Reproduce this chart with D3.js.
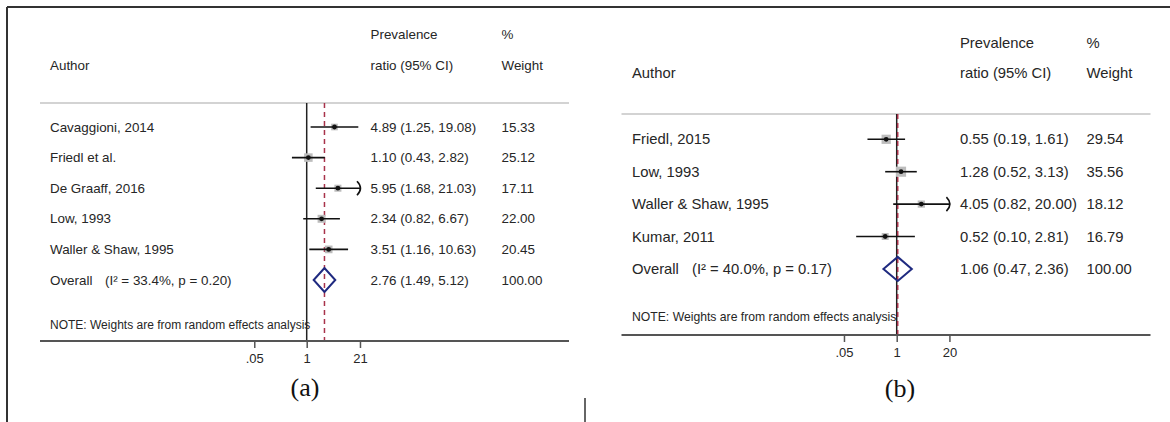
<!DOCTYPE html>
<html>
<head>
<meta charset="utf-8">
<script src="https://cdn.jsdelivr.net/npm/d3@7"></script>
<style>
  body { margin: 0; background: #fff; }
  svg { display: block; }
  text { font-family: "Liberation Sans", Arial, sans-serif; fill: #262626; }
</style>
</head>
<body>
<svg id="chart" width="1170" height="422"></svg>
<script>
// ---- Panel (a): prevalence ratios by study ----
const studiesA = ["Cavaggioni, 2014", "Friedl et al.", "De Graaff, 2016", "Low, 1993", "Waller & Shaw, 1995"];
const ratioA   = [4.89, 1.10, 5.95, 2.34, 3.51];
const lowerA   = [1.25, 0.43, 1.68, 0.82, 1.16];
const upperA   = [19.08, 2.82, 21.03, 6.67, 10.63];
const weightA  = [15.33, 25.12, 17.11, 22.00, 20.45];
const overallA = [2.76, 1.49, 5.12, 100.00];     // estimate, lower, upper, weight
const overallStatsA = "(I² = 33.4%, p = 0.20)";
const ticksA      = [0.05, 1, 21];
const tickLabelsA = [".05", "1", "21"];

// ---- Panel (b) ----
const studiesB = ["Friedl, 2015", "Low, 1993", "Waller & Shaw, 1995", "Kumar, 2011"];
const ratioB   = [0.55, 1.28, 4.05, 0.52];
const lowerB   = [0.19, 0.52, 0.82, 0.10];
const upperB   = [1.61, 3.13, 20.00, 2.81];
const weightB  = [29.54, 35.56, 18.12, 16.79];
const overallB = [1.06, 0.47, 2.36, 100.00];
const overallStatsB = "(I² = 40.0%, p = 0.17)";
const ticksB      = [0.05, 1, 20];
const tickLabelsB = [".05", "1", "20"];

const noteText = "NOTE: Weights are from random effects analysis";
const f2 = d3.format(".2f");

const svg = d3.select("#chart");

// outer frame
svg.append("line").attr("x1", 7).attr("x2", 1170).attr("y1", 7).attr("y2", 7)
  .attr("stroke", "#333").attr("stroke-width", 2);
svg.append("line").attr("x1", 7).attr("x2", 7).attr("y1", 7).attr("y2", 422)
  .attr("stroke", "#333").attr("stroke-width", 2);

function drawPanel(data, L) {
  const g = svg.append("g");
  const n = data.studies.length;

  // log scale anchored so that 1 sits on the null line
  const x = d3.scaleLog()
    .domain([data.ticks[0], data.ticks[data.ticks.length - 1]])
    .range([L.nullX - L.k * Math.log(1 / data.ticks[0]),
            L.nullX + L.k * Math.log(data.ticks[data.ticks.length - 1])]);
  const xMin = x.domain()[0], xMax = x.domain()[1];

  const rowY = i => L.rowY0 + i * L.rowStep;
  const fs = L.fs;

  // headers
  const head = [
    [L.authorX, L.headY2, "Author"],
    [L.estX, L.headY1, "Prevalence"],
    [L.estX, L.headY2, "ratio (95% CI)"],
    [L.wX, L.headY1, "%"],
    [L.wX, L.headY2, "Weight"]
  ];
  g.selectAll("text.head").data(head).join("text")
    .attr("x", d => d[0]).attr("y", d => d[1])
    .attr("dominant-baseline", "central")
    .style("font-size", fs + "px").text(d => d[2]);

  // header separator
  g.append("line").attr("x1", L.lineX0).attr("x2", L.lineX1)
    .attr("y1", L.sepY).attr("y2", L.sepY)
    .attr("stroke", "#c4c4c4").attr("stroke-width", 1.5);

  // null line at 1
  g.append("line").attr("x1", x(1)).attr("x2", x(1))
    .attr("y1", L.sepY).attr("y2", L.axisY)
    .attr("stroke", "#222").attr("stroke-width", 1.5);

  // dashed line at overall estimate
  g.append("line").attr("x1", x(data.overall[0])).attr("x2", x(data.overall[0]))
    .attr("y1", L.sepY).attr("y2", L.axisY)
    .attr("stroke", "#a8324a").attr("stroke-width", 1.5)
    .attr("stroke-dasharray", "5,4");

  const rows = d3.range(n).map(i => ({
    name: data.studies[i], est: data.ratio[i], lo: data.lower[i],
    hi: data.upper[i], w: data.weight[i], y: rowY(i)
  }));

  // weight boxes
  g.selectAll("rect.box").data(rows).join("rect")
    .attr("x", d => x(d.est) - 0.85 * Math.sqrt(d.w))
    .attr("y", d => d.y - 0.85 * Math.sqrt(d.w))
    .attr("width", d => 1.7 * Math.sqrt(d.w))
    .attr("height", d => 1.7 * Math.sqrt(d.w))
    .attr("fill", "#bdbdbd");

  // confidence intervals (clipped at the axis limits)
  g.selectAll("line.ci").data(rows).join("line")
    .attr("x1", d => x(Math.max(d.lo, xMin)))
    .attr("x2", d => x(Math.min(d.hi, xMax)))
    .attr("y1", d => d.y).attr("y2", d => d.y)
    .attr("stroke", "#111").attr("stroke-width", 1.6);

  // arrowheads where an interval reaches the axis limit
  g.selectAll("path.arrow").data(rows.filter(d => d.hi >= xMax)).join("path")
    .attr("d", d => {
      const xe = x(xMax);
      return `M${xe - 3},${d.y - 7} Q${xe + 4},${d.y} ${xe - 3},${d.y + 7}`;
    })
    .attr("fill", "none").attr("stroke", "#111").attr("stroke-width", 1.6);

  // point estimates
  g.selectAll("circle.pt").data(rows).join("circle")
    .attr("cx", d => x(d.est)).attr("cy", d => d.y).attr("r", 2.4)
    .attr("fill", "#111");

  // study labels, estimates and weights
  g.selectAll("text.name").data(rows).join("text")
    .attr("x", L.authorX).attr("y", d => d.y).attr("dominant-baseline", "central")
    .style("font-size", fs + "px").text(d => d.name);
  g.selectAll("text.est").data(rows).join("text")
    .attr("x", L.estX).attr("y", d => d.y).attr("dominant-baseline", "central")
    .style("font-size", fs + "px")
    .text(d => `${f2(d.est)} (${f2(d.lo)}, ${f2(d.hi)})`);
  g.selectAll("text.wt").data(rows).join("text")
    .attr("x", L.wX).attr("y", d => d.y).attr("dominant-baseline", "central")
    .style("font-size", fs + "px").text(d => f2(d.w));

  // overall row
  const oy = rowY(n);
  const [oe, ol, oh, ow] = data.overall;
  g.append("path")
    .attr("d", `M${x(ol)},${oy} L${x(oe)},${oy - 12} L${x(oh)},${oy} L${x(oe)},${oy + 12} Z`)
    .attr("fill", "none").attr("stroke", "#1f2a80").attr("stroke-width", 2);
  g.append("text").attr("x", L.authorX).attr("y", oy).attr("dominant-baseline", "central")
    .style("font-size", fs + "px").text("Overall");
  g.append("text").attr("x", L.authorX + L.statsGap).attr("y", oy).attr("dominant-baseline", "central")
    .style("font-size", fs + "px").text(data.overallStats);
  g.append("text").attr("x", L.estX).attr("y", oy).attr("dominant-baseline", "central")
    .style("font-size", fs + "px").text(`${f2(oe)} (${f2(ol)}, ${f2(oh)})`);
  g.append("text").attr("x", L.wX).attr("y", oy).attr("dominant-baseline", "central")
    .style("font-size", fs + "px").text(f2(ow));

  // note
  g.append("text").attr("x", L.authorX).attr("y", L.noteY).attr("dominant-baseline", "central")
    .style("font-size", L.noteFs + "px").text(noteText);

  // axis: full-width base line plus ticks from the scale
  g.append("line").attr("x1", L.lineX0).attr("x2", L.lineX1)
    .attr("y1", L.axisY).attr("y2", L.axisY)
    .attr("stroke", "#555").attr("stroke-width", 2);
  const ax = g.append("g").attr("transform", `translate(0,${L.axisY})`)
    .call(d3.axisBottom(x).tickValues(data.ticks)
      .tickFormat((d, i) => data.tickLabels[i]).tickSize(7).tickPadding(6));
  ax.select(".domain").remove();
  ax.selectAll(".tick line").attr("stroke", "#555").attr("stroke-width", 1.5);
  ax.selectAll(".tick text").style("font-size", "13px")
    .style("font-family", "'Liberation Sans', Arial, sans-serif").attr("fill", "#262626");

  // panel tag
  g.append("text").attr("x", L.tagX).attr("y", L.tagY)
    .attr("text-anchor", "middle").attr("dominant-baseline", "central")
    .style("font-family", "'Liberation Serif', 'Times New Roman', serif")
    .style("font-size", "26px").style("fill", "#111").text(L.tag);
}

drawPanel(
  { studies: studiesA, ratio: ratioA, lower: lowerA, upper: upperA, weight: weightA,
    overall: overallA, overallStats: overallStatsA, ticks: ticksA, tickLabels: tickLabelsA },
  { authorX: 50, estX: 370.5, wX: 501.5, lineX0: 40, lineX1: 569,
    nullX: 306.7, k: 17.5, headY1: 34, headY2: 65, sepY: 103,
    rowY0: 127, rowStep: 30.6, noteY: 325, axisY: 341,
    fs: 13.4, noteFs: 12, statsGap: 55,
    tagX: 305, tagY: 387, tag: "(a)" }
);

drawPanel(
  { studies: studiesB, ratio: ratioB, lower: lowerB, upper: upperB, weight: weightB,
    overall: overallB, overallStats: overallStatsB, ticks: ticksB, tickLabels: tickLabelsB },
  { authorX: 632, estX: 960, wX: 1086.5, lineX0: 621.5, lineX1: 1150.5,
    nullX: 896.7, k: 17.6, headY1: 43, headY2: 73, sepY: 114,
    rowY0: 139.3, rowStep: 32.4, noteY: 317, axisY: 335,
    fs: 14.8, noteFs: 12.2, statsGap: 60,
    tagX: 900, tagY: 388, tag: "(b)" }
);

// short divider between the two panels at the bottom edge
svg.append("line").attr("x1", 585).attr("x2", 585).attr("y1", 398).attr("y2", 422)
  .attr("stroke", "#333").attr("stroke-width", 1.5);
</script>
</body>
</html>
